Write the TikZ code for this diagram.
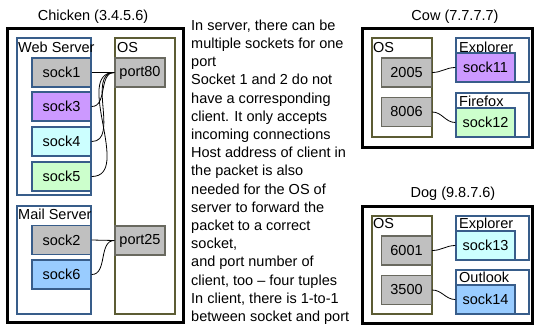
\documentclass[tikz,border=0pt]{standalone}
\usepackage{fontspec}
\setmainfont{Liberation Sans}
\usepackage{tikz}
\usetikzlibrary{positioning}

\definecolor{boxblue}{RGB}{56,93,138}
\definecolor{osolive}{RGB}{92,92,52}
\definecolor{portgray}{RGB}{192,192,192}
\definecolor{portline}{RGB}{105,105,95}
\definecolor{sockpurple}{RGB}{204,153,255}
\definecolor{sockcyan}{RGB}{204,255,255}
\definecolor{sockgreen}{RGB}{204,255,204}
\definecolor{sockblue}{RGB}{153,204,255}

\begin{document}
\begin{tikzpicture}[x=1pt, y=-1pt,
  font=\fontsize{14.5}{18.2}\selectfont,
  host/.style={draw, line width=3pt, rectangle, inner sep=0pt},
  proc/.style={draw=boxblue, line width=1.4pt, rectangle, inner sep=0pt},
  osbox/.style={draw=osolive, line width=1.4pt, rectangle, inner sep=0pt},
  sockbox/.style={draw=boxblue, line width=1.4pt, rectangle, inner sep=0pt, minimum width=59pt, minimum height=29pt},
  portbox/.style={draw=portline, fill=portgray, line width=1.4pt, rectangle, inner sep=0pt, minimum width=50pt, minimum height=29pt},
  tag/.style={inner sep=0pt, anchor=base west},
  link/.style={draw, line width=0.8pt}]
\useasboundingbox (0,0) rectangle (534,324);

% Chicken host
\node (chickentitle) at (93,17) {Chicken (3.4.5.6)};
\node[host, minimum width=176pt, minimum height=294pt] (chicken) at (95,175) {};
\node[proc, minimum width=74pt, minimum height=157pt] (websrv) at (54,116.5) {};
\node[tag] (websrvtag) at (18,52) {Web Server};
\node[osbox, minimum width=60pt, minimum height=276pt] (chickenos) at (145,176) {};
\node[tag] (chickenostag) at (117,52) {OS};
\node[proc, minimum width=74pt, minimum height=108pt] (mailsrv) at (54,260) {};
\node[tag] (mailsrvtag) at (18,219) {Mail Server};

\node[sockbox, fill=portgray] (sock1) at (61.5,72.5) {sock1};
\node[sockbox, fill=sockpurple] (sock3) at (61.5,106.5) {sock3};
\node[sockbox, fill=sockcyan] (sock4) at (61.5,141.5) {sock4};
\node[sockbox, fill=sockgreen] (sock5) at (61.5,176.5) {sock5};
\node[sockbox, fill=portgray] (sock2) at (61.5,240) {sock2};
\node[sockbox, fill=sockblue] (sock6) at (61.5,274.5) {sock6};
\node[portbox] (port80) at (140,72.5) {port80};
\node[portbox] (port25) at (140,240.5) {port25};

% Chicken links
\draw[link] (sock1.east) -- (port80.west);
\draw[link] (sock3.east) to[out=0, in=180] (port80.west);
\draw[link] (sock4.east) to[out=0, in=180] (port80.west);
\draw[link] (sock5.east) to[out=0, in=180] (port80.west);
\draw[link] (sock2.east) -- (port25.west);
\draw[link] (sock6.east) to[out=0, in=180] (port25.west);

% Notes
\node[inner sep=0pt, anchor=north west, align=left] (notes) at (191,19.5) {%
In server, there can be\\
multiple sockets for one\\
port\\
Socket 1 and 2 do not\\
have a corresponding\\
client. It only accepts\\
incoming connections\\
Host address of client in\\
the packet is also\\
needed for the OS of\\
server to forward the\\
packet to a correct\\
socket,\\
and port number of\\
client, too -- four tuples\\
In client, there is 1-to-1\\
between socket and port};

% Cow host
\node (cowtitle) at (455,17) {Cow (7.7.7.7)};
\node[host, minimum width=170pt, minimum height=119pt] (cow) at (447,87.5) {};
\node[osbox, minimum width=60pt, minimum height=99pt] (cowos) at (402,87.5) {};
\node[tag] (cowostag) at (373,52) {OS};
\node[portbox] (p2005) at (406.5,72.5) {2005};
\node[portbox] (p8006) at (406.5,112) {8006};
\node[proc, minimum width=73pt, minimum height=44pt] (cowexpl) at (492.5,60) {};
\node[tag] (cowexpltag) at (459,52) {Explorer};
\node[sockbox, fill=sockpurple] (sock11) at (485.5,67.5) {sock11};
\node[proc, minimum width=73pt, minimum height=44pt] (firefox) at (492.5,115) {};
\node[tag] (firefoxtag) at (459,106) {Firefox};
\node[sockbox, fill=sockgreen] (sock12) at (485.5,122.5) {sock12};
\draw[link] (p2005.east) to[out=0, in=180] (sock11.west);
\draw[link] (p8006.east) to[out=0, in=180] (sock12.west);

% Dog host
\node (dogtitle) at (453,194) {Dog (9.8.7.6)};
\node[host, minimum width=170pt, minimum height=117pt] (dog) at (447,264.5) {};
\node[osbox, minimum width=60pt, minimum height=98pt] (dogos) at (402,265) {};
\node[tag] (dogostag) at (373,228) {OS};
\node[portbox] (p6001) at (406.5,250.5) {6001};
\node[portbox] (p3500) at (406.5,290) {3500};
\node[proc, minimum width=73pt, minimum height=44pt] (dogexpl) at (492.5,238) {};
\node[tag] (dogexpltag) at (459,228) {Explorer};
\node[sockbox, fill=sockcyan] (sock13) at (485.5,245.5) {sock13};
\node[proc, minimum width=73pt, minimum height=44pt] (outlook) at (492.5,292) {};
\node[tag] (outlooktag) at (459,282) {Outlook};
\node[sockbox, fill=sockblue] (sock14) at (485.5,299.5) {sock14};
\draw[link] (p6001.east) to[out=0, in=180] (sock13.west);
\draw[link] (p3500.east) to[out=0, in=180] (sock14.west);

\end{tikzpicture}
\end{document}
